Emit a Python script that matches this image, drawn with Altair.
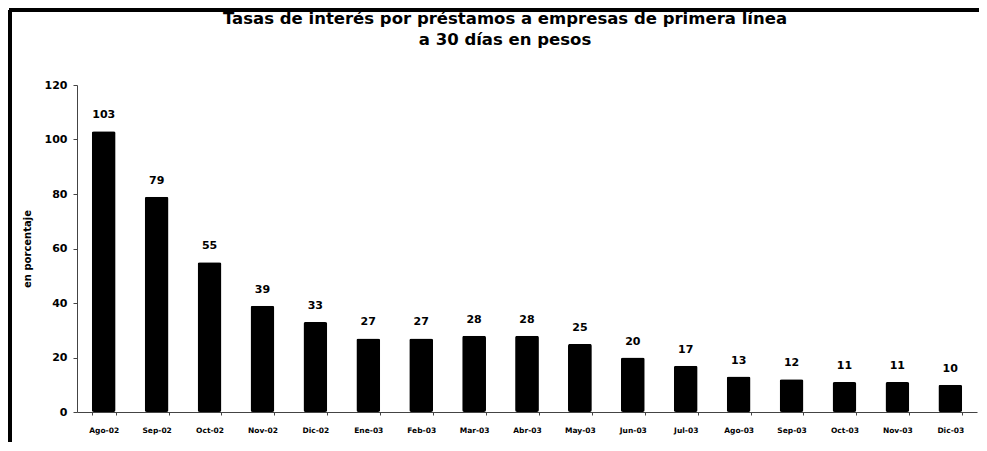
import altair as alt
import pandas as pd

months = ["Ago-02", "Sep-02", "Oct-02", "Nov-02", "Dic-02", "Ene-03", "Feb-03", "Mar-03",
          "Abr-03", "May-03", "Jun-03", "Jul-03", "Ago-03", "Sep-03", "Oct-03", "Nov-03", "Dic-03"]
rates = [103, 79, 55, 39, 33, 27, 27, 28, 28, 25, 20, 17, 13, 12, 11, 11, 10]
y_ticks = [0, 20, 40, 60, 80, 100, 120]

df = pd.DataFrame({"mes": months, "tasa": rates})

FONT = "DejaVu Sans"

x_enc = alt.X("mes:N", sort=months,
              scale=alt.Scale(paddingInner=0.55, paddingOuter=0.28),
              axis=alt.Axis(title=None, labelAngle=0, labelFontSize=7.5, labelFontWeight="bold",
                            labelFont=FONT, labelColor="black", labelPadding=11,
                            tickBand="extent", tickSize=3, tickColor="#444",
                            domainColor="#444", domainWidth=1))
y_enc = alt.Y("tasa:Q", scale=alt.Scale(domain=[0, 120], nice=False),
              axis=alt.Axis(title="en porcentaje", values=y_ticks, grid=False,
                            labelFontSize=11, labelFontWeight="bold", labelFont=FONT,
                            labelColor="black", labelPadding=6, tickSize=4, tickColor="#444",
                            domainColor="#444", domainWidth=1,
                            titleFontSize=10, titleFontWeight="bold", titleFont=FONT,
                            titleColor="black", titlePadding=12))

bars = alt.Chart(df).mark_bar(color="black", cornerRadius=2).encode(x=x_enc, y=y_enc)
labels = alt.Chart(df).mark_text(baseline="bottom", dy=-11, fontSize=11, fontWeight="bold",
                                 font=FONT, color="black").encode(
    x=alt.X("mes:N", sort=months), y="tasa:Q", text="tasa:Q")

frame_top = alt.Chart(df).mark_rule(color="black", strokeWidth=3).encode(
    x=alt.value(-68), x2=alt.value(905), y=alt.value(-75))
frame_left = alt.Chart(df).mark_rule(color="black", strokeWidth=3).encode(
    x=alt.value(-67), y=alt.value(-75), y2=alt.value(400))

chart = alt.layer(bars, labels, frame_top, frame_left).properties(
    width=900, height=327,
    title=alt.Title(["Tasas de interés por préstamos a empresas de primera línea",
                     "a 30 días en pesos"],
                    fontSize=16.5, fontWeight="bold", font=FONT, color="black",
                    anchor="middle", frame="group", dx=-22, offset=-40, lineHeight=21),
    padding={"left": 69, "top": 77, "right": 2, "bottom": 30},
    autosize=alt.AutoSizeParams(type="none"),
    background="white",
).configure_view(stroke=None)

chart.save("out.html", embed_options={"renderer": "svg", "actions": False})
